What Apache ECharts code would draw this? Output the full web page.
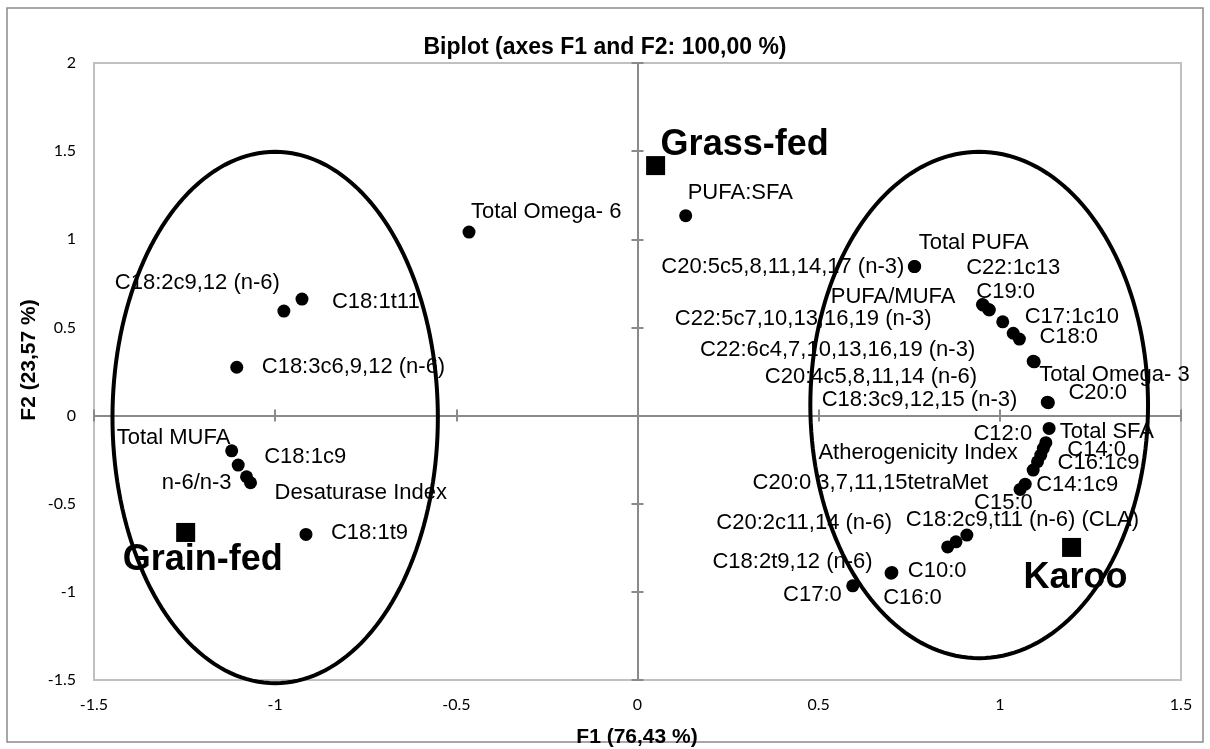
<!DOCTYPE html>
<html>
<head>
<meta charset="utf-8">
<script src="https://cdn.jsdelivr.net/npm/echarts@6/dist/echarts.min.js"></script>
<style>
  html, body { margin: 0; padding: 0; background: #ffffff; }
  #chart { width: 1210px; height: 749px; }
</style>
</head>
<body>
<div id="chart"></div>
<script>
// ---- Variables (fatty-acid measures) on the first two factors ----
const varNames = [
  'Total Omega- 6', 'C18:2c9,12 (n-6)', 'C18:1t11', 'C18:3c6,9,12 (n-6)', 'Total MUFA',
  'C18:1c9', 'n-6/n-3', 'Desaturase Index', 'C18:1t9', 'PUFA:SFA',
  'Total PUFA', 'C20:5c5,8,11,14,17 (n-3)', 'C22:1c13', 'PUFA/MUFA', 'C19:0',
  'C22:5c7,10,13,16,19 (n-3)', 'C17:1c10', 'C22:6c4,7,10,13,16,19 (n-3)', 'C18:0', 'Total Omega- 3',
  'C20:4c5,8,11,14 (n-6)', 'C20:0', 'C18:3c9,12,15 (n-3)', 'C12:0', 'Total SFA',
  'C14:0', 'Atherogenicity Index', 'C16:1c9', 'C20:0 3,7,11,15tetraMet', 'C14:1c9',
  'C15:0', 'C18:2c9,t11 (n-6) (CLA)', 'C20:2c11,14 (n-6)', 'C18:2t9,12 (n-6)', 'C10:0',
  'C16:0', 'C17:0'
];
const varF1 = [
  -0.465, -0.976, -0.926, -1.106, -1.120,
  -1.102, -1.079, -1.068, -0.915, 0.133,
  0.765, 0.764, 0.954, 0.952, 0.971,
  0.969, 1.008, 1.037, 1.054, 1.095,
  1.092, 1.134, 1.131, 1.136, 1.127,
  1.120, 1.113, 1.104, 1.092, 1.070,
  1.056, 0.909, 0.879, 0.856, 0.702,
  0.700, 0.594
];
const varF2 = [
  1.041, 0.593, 0.661, 0.274, -0.200,
  -0.281, -0.347, -0.381, -0.674, 1.134,
  0.846, 0.845, 0.627, 0.630, 0.599,
  0.602, 0.532, 0.467, 0.434, 0.305,
  0.308, 0.073, 0.076, -0.073, -0.154,
  -0.186, -0.224, -0.262, -0.309, -0.389,
  -0.419, -0.678, -0.716, -0.745, -0.890,
  -0.894, -0.966
];

// ---- Observations (feeding systems) ----
const obsNames = ['Grass-fed', 'Grain-fed', 'Karoo'];
const obsF1 = [0.050, -1.247, 1.198];
const obsF2 = [1.418, -0.663, -0.748];

// ---- Group ellipses: centre (F1, F2) and semi-axes ----
const ellipseCx = [-1.000, 0.943];
const ellipseCy = [-0.011, 0.060];
const ellipseRx = [0.449, 0.466];
const ellipseRy = [1.507, 1.436];

// ---- Axis ticks ----
const xTicks = [-1.5, -1, -0.5, 0, 0.5, 1, 1.5];
const yTicks = [-1.5, -1, -0.5, 0, 0.5, 1, 1.5, 2];

// ---- Label placement (pixel offset from the dot, text anchor side) ----
const varLabelPlace = [
  [2, -20, 'left'], [-4, -28, 'right'], [30, 3, 'left'], [25, 0, 'left'], [-115, -13, 'left'],
  [26, -8, 'left'], [-15, 6, 'right'], [24, 10, 'left'], [25, -1, 'left'], [2, -23, 'left'],
  [4, -23, 'left'], [-10, 0, 'right'], [-17, -37, 'left'], [-27, -8, 'right'], [-13, -18, 'left'],
  [-57, 9, 'right'], [22, -5, 'left'], [-38, 17, 'right'], [20, -2, 'left'], [5, 13, 'left'],
  [-56, 16, 'right'], [20, -10, 'left'], [-30, -2, 'right'], [-17, 5, 'right'], [14, -11, 'left'],
  [24, 2, 'left'], [-23, -2, 'right'], [20, 1, 'left'], [-45, 13, 'right'], [11, 1, 'left'],
  [-46, 14, 'left'], [-61, -15, 'left'], [-64, -19, 'right'], [-75, 15, 'right'], [16, -2, 'left'],
  [-8, 25, 'left'], [-11, 9, 'right']
];
const obsLabelPlace = [[5, -21, 'left'], [-63, 28, 'left'], [-48, 31, 'left']];

const LABEL_FONT = '"Liberation Sans", Arial, sans-serif';
const TICK_FONT = 'Lato, "Liberation Sans", sans-serif';

const varData = varNames.map((n, i) => ({
  name: n,
  value: [varF1[i], varF2[i]],
  label: { align: varLabelPlace[i][2], offset: [varLabelPlace[i][0], varLabelPlace[i][1]] }
}));
const obsData = obsNames.map((n, i) => ({
  name: n,
  value: [obsF1[i], obsF2[i]],
  label: { align: obsLabelPlace[i][2], offset: [obsLabelPlace[i][0], obsLabelPlace[i][1]] }
}));
const ellipseData = ellipseCx.map((c, i) => [c, ellipseCy[i], ellipseRx[i], ellipseRy[i]]);

const xMin = xTicks[0], xMax = xTicks[xTicks.length - 1];
const yMin = yTicks[0], yMax = yTicks[yTicks.length - 1];
const step = 0.5;

function labelAxis(extra) {
  return Object.assign({
    type: 'value', interval: step,
    axisLine: { show: false, onZero: false },
    axisTick: { show: false },
    splitLine: { show: false },
    axisLabel: { color: '#000', fontFamily: TICK_FONT, fontSize: 16 }
  }, extra);
}
function zeroAxis(extra, inside) {
  return Object.assign({
    type: 'value', interval: step,
    axisLine: { show: true, onZero: true, onZeroAxisIndex: 0, lineStyle: { color: '#8a8a8a', width: 2 } },
    axisTick: { show: true, inside: inside, length: 6, lineStyle: { color: '#8a8a8a', width: 2 } },
    splitLine: { show: false },
    axisLabel: { show: false }
  }, extra);
}

const chart = echarts.init(document.getElementById('chart'), null, { renderer: 'canvas' });
chart.setOption({
  animation: false,
  backgroundColor: '#ffffff',
  title: {
    text: 'Biplot (axes F1 and F2: 100,00 %)',
    left: 'center', top: 31,
    textStyle: { fontFamily: LABEL_FONT, fontWeight: 'bold', fontSize: 23, color: '#000' }
  },
  grid: {
    left: 94, right: 29, top: 63, bottom: 69,
    show: true, borderColor: '#c0c0c0', borderWidth: 2, backgroundColor: 'transparent'
  },
  xAxis: [
    labelAxis({ min: xMin, max: xMax, position: 'bottom', axisLabel: { color: '#000', fontFamily: TICK_FONT, fontSize: 16, margin: 17 } }),
    zeroAxis({ min: xMin, max: xMax, position: 'bottom' }, false),
    zeroAxis({ min: xMin, max: xMax, position: 'bottom' }, true)
  ],
  yAxis: [
    labelAxis({ min: yMin, max: yMax, position: 'left', axisLabel: { color: '#000', fontFamily: TICK_FONT, fontSize: 16, margin: 18 } }),
    zeroAxis({ min: yMin, max: yMax, position: 'left' }, false),
    zeroAxis({ min: yMin, max: yMax, position: 'left' }, true)
  ],
  graphic: [
    {
      type: 'rect', silent: true,
      shape: { x: 7, y: 8, width: 1196, height: 734 },
      style: { fill: 'none', stroke: '#8a8a8a', lineWidth: 1.5 }
    },
    {
      type: 'text', x: 637, y: 737,
      style: { text: 'F1 (76,43 %)', fontFamily: LABEL_FONT, fontWeight: 'bold', fontSize: 21, fill: '#000', align: 'center', verticalAlign: 'middle' }
    },
    {
      type: 'text', x: 29, y: 360, rotation: Math.PI / 2,
      style: { text: 'F2 (23,57 %)', fontFamily: LABEL_FONT, fontWeight: 'bold', fontSize: 21, fill: '#000', align: 'center', verticalAlign: 'middle' }
    }
  ],
  series: [
    {
      type: 'scatter', name: 'Variables', z: 3,
      xAxisIndex: 0, yAxisIndex: 0,
      symbol: 'circle', symbolSize: 13,
      itemStyle: { color: '#000', opacity: 1 },
      label: {
        show: true, position: 'inside', verticalAlign: 'middle',
        formatter: '{b}', color: '#000', fontFamily: LABEL_FONT, fontSize: 22
      },
      emphasis: { disabled: true },
      data: varData
    },
    {
      type: 'scatter', name: 'Observations', z: 3,
      xAxisIndex: 0, yAxisIndex: 0,
      symbol: 'rect', symbolSize: 19,
      itemStyle: { color: '#000', opacity: 1 },
      label: {
        show: true, position: 'inside', verticalAlign: 'middle',
        formatter: '{b}', color: '#000', fontFamily: LABEL_FONT, fontWeight: 'bold', fontSize: 36
      },
      emphasis: { disabled: true },
      data: obsData
    },
    {
      type: 'custom', name: 'Ellipses', z: 6, clip: false,
      xAxisIndex: 0, yAxisIndex: 0,
      renderItem: function (params, api) {
        const cx = api.value(0), cy = api.value(1), rx = api.value(2), ry = api.value(3);
        const pts = [];
        for (let k = 0; k < 180; k++) {
          const t = (k / 180) * Math.PI * 2;
          pts.push(api.coord([cx + rx * Math.cos(t), cy + ry * Math.sin(t)]));
        }
        return {
          type: 'polygon',
          shape: { points: pts },
          style: { fill: 'none', stroke: '#000', lineWidth: 4 }
        };
      },
      data: ellipseData
    }
  ]
});
</script>
</body>
</html>
